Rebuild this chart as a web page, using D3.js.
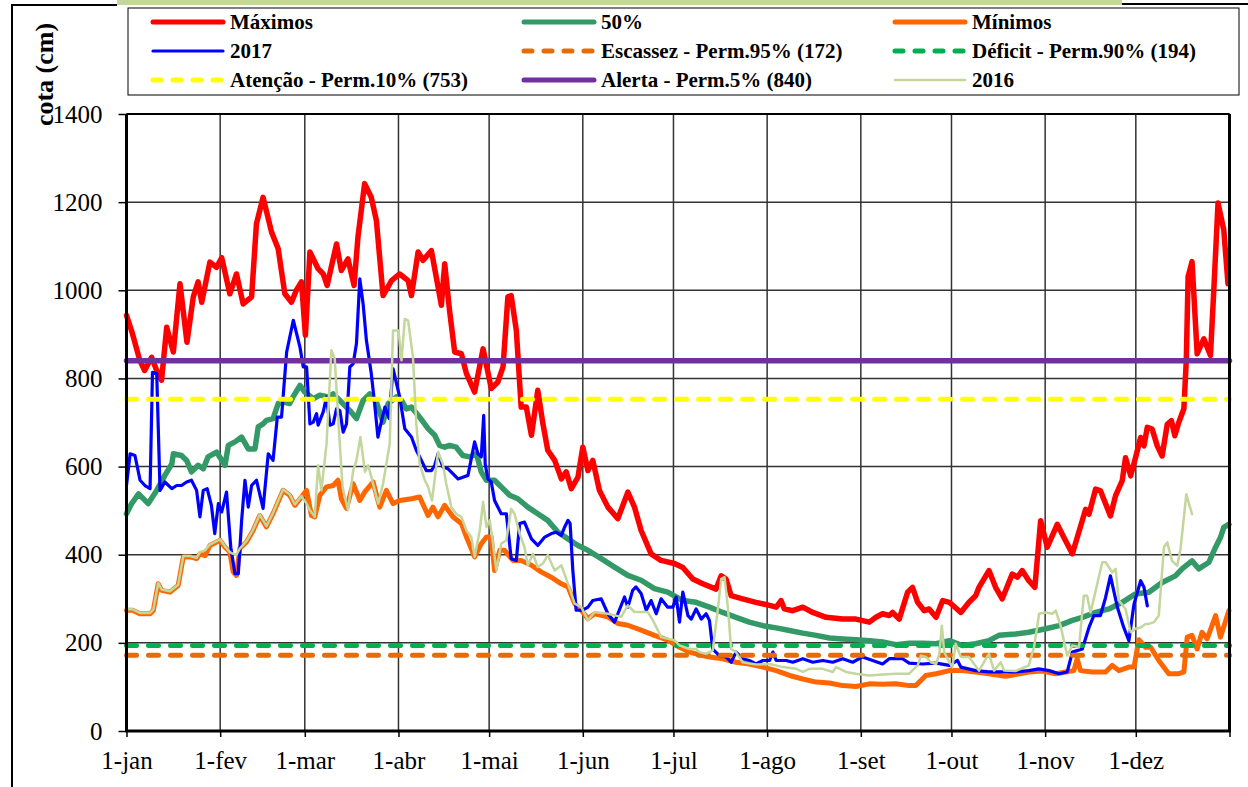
<!DOCTYPE html>
<html>
<head>
<meta charset="utf-8">
<script src="https://cdn.jsdelivr.net/npm/d3@7/dist/d3.min.js"></script>
<style>
  html, body { margin: 0; padding: 0; background: #fff; }
  svg { display: block; }
  text { font-family: "Liberation Serif", "Times New Roman", Times, serif; }
</style>
</head>
<body>
<svg id="chart" width="1248" height="787"></svg>
<script>
// ---------------- DATA ----------------
const monthStarts = [0, 31, 59, 90, 120, 151, 181, 212, 243, 273, 304, 334];
const monthLabels = ["1-jan","1-fev","1-mar","1-abr","1-mai","1-jun","1-jul","1-ago","1-set","1-out","1-nov","1-dez"];
const yTicks = [0, 200, 400, 600, 800, 1000, 1200, 1400];

// [day of year, cota (cm)]
const maximos = [[0,943],[2,901],[4.4,841],[6,818],[8.3,848],[10,818],[11.6,796],[13.3,916],[15.5,860],[17.7,1015],[20,882],[22.1,985],[23.7,1019],[24.9,973],[27.6,1064],[29.8,1052],[31.5,1074],[34.2,992],[36.4,1037],[38.6,969],[41.4,985],[43,1151],[45.2,1211],[48,1132],[50.2,1094],[52.4,992],[54.6,973],[56.2,1000],[57.9,1019],[59.2,898],[60.7,1087],[63.4,1049],[65.1,1037],[66.4,1011],[69.5,1105],[71.1,1045],[73.3,1071],[75.3,1011],[76.6,1121],[78.8,1242],[81,1211],[82.7,1158],[84.9,988],[87.7,1022],[90.4,1037],[93.2,1022],[94.3,988],[96.5,1087],[98.1,1068],[100.9,1090],[102.5,1030],[104.2,966],[105.3,1060],[106.9,954],[108.6,860],[110.8,856],[112.5,811],[115.2,769],[118,867],[120.7,777],[122.9,792],[124.6,826],[126.2,985],[127.3,988],[129,909],[130.6,735],[132.3,735],[134,671],[136.1,773],[137.8,697],[139.4,637],[141.7,614],[143.9,572],[145.5,588],[147.2,550],[149.4,576],[151,644],[152.7,591],[154.3,614],[156.5,546],[159.3,508],[162.6,482],[165.9,542],[168.1,508],[170.3,455],[173.6,402],[176.9,387],[181.3,380],[184.1,371],[187.4,345],[190.7,334],[195.1,322],[196.8,352],[198.4,345],[200.1,307],[203.9,300],[208.3,292],[212.8,285],[215,281],[216.6,296],[217.7,277],[220.5,273],[223.8,281],[227.1,269],[231.5,258],[237,254],[241.4,254],[245.8,247],[248,258],[250.2,266],[252.4,262],[253.5,269],[255.7,254],[258.5,315],[260.1,326],[261.8,292],[264,273],[265.6,277],[267.9,258],[270.1,296],[272.3,292],[276.1,269],[278.8,292],[281,307],[282.1,326],[285.4,364],[287.6,326],[289.8,300],[293.1,356],[294.8,349],[296.4,364],[298.6,341],[300.6,326],[302.5,477],[304.7,417],[308,469],[310.2,439],[313,402],[317.4,503],[318.5,492],[320.7,549],[322.3,545],[325.6,488],[327.3,534],[329.5,568],[330.6,620],[332.3,579],[333.9,620],[335.6,666],[336.7,647],[337.8,689],[339.4,685],[341.1,647],[342.7,624],[344.4,696],[345.8,704],[346.9,670],[348.2,700],[349.9,731],[350.7,841],[351.3,1031],[352.6,1065],[354.3,856],[356.5,890],[358.7,852],[359.8,1000],[361.2,1198],[363.1,1137],[364.5,1015]];

const mediana = [[0,493],[1.7,516],[4,538],[7.2,516],[10,546],[12.7,580],[15,606],[15.5,629],[18.2,625],[19.9,614],[21.5,588],[23.7,603],[25.4,595],[27,622],[29.8,633],[32.6,603],[33.7,648],[35.9,656],[38.1,667],[40.3,640],[42.5,640],[43.6,690],[45.2,697],[46.3,705],[48.5,709],[50.2,743],[52.4,746],[54,743],[55.1,758],[57.4,784],[59,769],[61.8,754],[64,762],[66.7,758],[68.4,765],[70.6,750],[73.9,727],[76.1,709],[78.3,750],[80.5,765],[82.7,746],[84.9,701],[86.6,743],[89.3,758],[91,750],[92.6,731],[94.3,735],[97,712],[99.8,686],[102,671],[103.6,648],[105.3,644],[106.9,648],[109.1,644],[111.3,625],[113.6,622],[115.8,629],[117.4,588],[119.1,569],[121.8,569],[124,554],[126.8,535],[129.5,527],[132.8,508],[136.1,493],[139.4,478],[142.8,451],[146.1,436],[149.4,421],[152.7,410],[157.1,391],[161.5,372],[165.9,353],[170.3,342],[174.7,323],[179.1,315],[184.1,296],[188.5,292],[192.9,281],[197.3,269],[201.7,258],[206.1,247],[210.6,239],[215,234],[219.4,228],[223.8,222],[228.2,217],[232.6,211],[237,209],[241.4,207],[245.8,205],[250.2,202],[254.6,196],[259,199],[263.4,199],[267.9,198],[272.3,205],[276.6,194],[281,198],[285.4,205],[288.7,217],[294.2,220],[298.6,224],[304.2,232],[308.6,239],[313,251],[316.3,258],[320.7,269],[325.1,277],[329.5,292],[333.9,311],[338.3,315],[342.7,337],[347.1,352],[349.3,368],[352.6,386],[354.8,368],[358.2,383],[360.4,417],[362,439],[363.1,462],[364.8,469]];

const minimos = [[0,274],[2,274],[4.4,266],[7.8,266],[8.9,274],[10.5,334],[11.6,319],[14.4,315],[17.1,330],[18.8,395],[21,395],[23.2,391],[24.3,402],[26,398],[27.6,421],[30.9,433],[32.6,417],[34.2,406],[35.3,361],[36.4,353],[37.5,414],[39.7,429],[41.9,455],[44.1,489],[46.3,463],[48.5,493],[51.8,546],[54,535],[55.7,512],[57.9,531],[59.6,546],[61.2,489],[62.3,486],[64,535],[66.2,554],[68.4,557],[70,569],[71.1,527],[72.8,505],[75,561],[77.2,523],[78.8,542],[81.6,565],[83.8,508],[86,546],[88.2,516],[90.4,523],[94.3,527],[97,531],[99.8,489],[101.4,508],[103.1,486],[105.3,512],[108,486],[110.8,471],[112.5,440],[115.2,395],[117.4,425],[119.1,440],[120.7,440],[121.8,364],[123.5,410],[125.1,410],[127.9,387],[130.6,387],[134,376],[137.2,361],[140.5,349],[143.9,334],[146.1,327],[148.3,289],[150.5,274],[152.7,255],[154.9,266],[159.3,259],[162.6,244],[165.9,240],[170.3,229],[174.7,217],[179.1,206],[183,190],[186.3,179],[190.7,171],[192.9,168],[197.3,164],[201.7,156],[206.1,152],[210.6,145],[215,137],[219.4,126],[223.8,118],[228.2,111],[232.6,109],[237,103],[241.4,101],[245.8,107],[250.2,106],[254.6,107],[259,103],[261.2,103],[264.5,126],[267.9,130],[272.3,137],[276.6,137],[281,134],[285.4,130],[290.9,124],[294.2,128],[298.6,134],[303,136],[307.5,130],[310.8,134],[313.5,137],[314.6,164],[315.7,137],[319.6,134],[324,134],[326.2,149],[328.4,137],[331.7,145],[333.4,145],[335,207],[337.2,190],[338.9,190],[341.6,160],[344.9,130],[348.2,130],[349.9,134],[351,213],[352.6,217],[354.3,186],[355.9,224],[357.6,209],[360.4,262],[362,213],[364.8,273]];

const ano2017 = [[0,557],[1.2,629],[2.8,625],[4.5,569],[6.1,557],[7.8,550],[8.6,814],[10,811],[11.1,546],[12.7,565],[15,550],[16.6,557],[18.2,557],[19.9,565],[21.5,569],[23.2,546],[24.3,486],[25.4,546],[26.7,550],[28.1,512],[29.2,448],[30.4,516],[31.5,497],[33.1,542],[34.5,417],[35.9,357],[37,357],[38.1,478],[39.2,569],[40.3,508],[41.4,557],[43,569],[45.2,505],[46.9,629],[48.5,614],[49.9,712],[51.3,712],[53,860],[55.2,932],[57.4,871],[58.5,826],[59.6,826],[60.7,697],[61.8,701],[62.9,720],[63.4,694],[65.1,724],[66.2,758],[67.3,694],[68.4,697],[69.5,731],[70.6,727],[71.7,678],[72.8,697],[73.9,826],[75,833],[76.1,879],[77.2,1026],[78.3,969],[79.4,886],[81,811],[82.1,743],[83.2,667],[84.3,701],[85.5,735],[86.9,709],[88.2,822],[90.4,758],[92.1,686],[94.3,667],[95.9,637],[97.6,614],[99.2,591],[100.9,591],[102,603],[103.1,629],[104.7,599],[106.4,595],[108,584],[109.7,572],[111.3,576],[113,580],[115.2,656],[116.3,629],[117.4,622],[118.2,716],[118.7,606],[119.6,572],[120.7,565],[121.8,523],[124,493],[125.7,493],[127.3,391],[129,387],[130.1,471],[131.7,474],[134,436],[136.1,421],[138.4,440],[140.6,448],[142.2,451],[143.9,444],[145,463],[146.1,478],[146.8,471],[147.7,364],[148.8,274],[151,274],[152.7,281],[154.3,296],[157.1,300],[159.3,266],[161.5,247],[162.6,266],[164.8,304],[165.9,281],[167.5,319],[168.6,327],[170.3,312],[172,274],[173.6,296],[175.3,266],[176.9,300],[179.1,281],[180.8,281],[181.9,304],[183,247],[184.1,315],[185.8,262],[186.9,254],[188.5,277],[190.2,254],[191.8,266],[192.9,251],[194,186],[196.2,171],[198.4,168],[200.1,156],[201.7,179],[203.9,164],[206.1,160],[208.3,152],[210.6,160],[212.8,160],[213.9,179],[215,160],[218.3,160],[220.5,156],[223.8,164],[227.1,156],[230.4,160],[233.7,156],[237,164],[240.3,156],[243.6,168],[246.9,160],[250.2,152],[252.4,164],[256.8,164],[259,154],[263.4,152],[267.9,154],[272.3,149],[275,160],[276.1,145],[281,137],[285.4,134],[289.8,134],[294.2,134],[298.6,137],[301.9,141],[305.3,137],[308.6,130],[311.3,134],[313,179],[316.3,186],[318.5,235],[320.1,262],[322.3,262],[324,303],[325.6,352],[327.9,281],[330,235],[331.7,205],[333.4,288],[335.6,341],[336.7,326],[337.8,284]];

const ano2016 = [[0,276],[2,276],[4.4,268],[7.8,268],[8.9,276],[10.5,336],[11.6,321],[14.4,317],[17.1,332],[18.8,397],[21,397],[23.2,393],[24.3,406],[26,410],[27.6,423],[30.9,435],[32.6,419],[34.2,406],[35.3,402],[36.4,400],[37.5,414],[39.7,431],[41.9,457],[44.1,491],[46.3,465],[48.5,495],[51.8,548],[54,537],[55.7,514],[57.9,533],[59.6,516],[60.7,501],[62.3,486],[63.4,603],[64.5,546],[66.2,652],[67.8,864],[68.9,845],[70.1,705],[71.5,554],[73.3,501],[75,591],[76.1,614],[77.4,667],[78.9,588],[80,603],[81.6,561],[83.3,516],[84.9,561],[87.1,652],[88.2,909],[90,909],[91,841],[92.1,935],[93.2,931],[94.8,848],[95.9,697],[97,606],[98.7,569],[99.8,554],[101.1,523],[103.1,633],[104.7,606],[105.8,561],[107.5,508],[109.1,493],[110.8,486],[112.5,455],[114.1,440],[115.2,395],[116.9,455],[118,520],[119.1,463],[120.2,478],[121.3,425],[122.4,364],[124,425],[125.7,433],[127.3,504],[128.4,493],[130.1,448],[131.7,417],[132.8,376],[134.5,402],[136.1,372],[137.8,380],[139.4,399],[141.7,364],[143.9,376],[146.1,334],[148.3,289],[150.5,281],[152.7,251],[154.9,270],[159.3,266],[163.7,259],[165.9,285],[168.1,270],[172.5,270],[174.2,251],[175.8,229],[176.9,213],[181.3,206],[183,194],[186.3,186],[188.5,186],[189.6,179],[191.8,175],[194,183],[195.7,277],[196.8,345],[197.9,349],[199,281],[200.1,186],[201.7,179],[203.9,156],[208.3,151],[212.8,152],[217.2,145],[221.6,141],[223.8,134],[226,141],[230.4,141],[233.7,134],[234.8,145],[238.1,134],[241.4,130],[245.8,126],[250.2,128],[254.6,130],[259,130],[261.8,149],[262.9,171],[264.5,168],[266.2,156],[267.9,152],[269,175],[269.8,239],[270.6,179],[272.3,156],[273.3,145],[274.4,198],[276.1,168],[278.8,168],[282.1,137],[285.4,175],[287.1,137],[289.3,156],[290.4,137],[294.2,136],[298.6,149],[300.3,190],[302,266],[304.2,269],[306.4,266],[307.5,273],[309.1,239],[311.3,171],[313,194],[315.2,190],[316.8,307],[317.9,307],[319,269],[320.7,318],[322.9,383],[324,383],[326.2,360],[327.3,368],[328.4,296],[330.6,277],[332.3,224],[333.9,232],[335.6,235],[337.2,243],[338.3,243],[340,247],[341.6,262],[343.3,417],[344.4,428],[346,386],[347.7,375],[348.8,413],[350.7,537],[352.6,492]];

const escassez = 172;
const deficit = 194;
const atencao = 753;
const alerta = 840;

// ---------------- CHART ----------------
const FONT = '"Liberation Serif", "Times New Roman", Times, serif';
const svg = d3.select("#chart");
const W = 1248, H = 787;
const plot = { left: 126.5, right: 1229.5, top: 114, bottom: 731 };
const x = d3.scaleLinear().domain([0, 365]).range([plot.left, plot.right]);
const y = d3.scaleLinear().domain([0, 1400]).range([plot.bottom, plot.top]);

svg.append("rect").attr("width", W).attr("height", H).attr("fill", "#fff");

// outer decorations
svg.append("rect").attr("x", 117).attr("y", 0).attr("width", 1005).attr("height", 5).attr("fill", "#C4D79B");
svg.append("line").attr("x1", 11).attr("x2", 117).attr("y1", 5).attr("y2", 5).attr("stroke", "#000").attr("stroke-width", 2);
svg.append("line").attr("x1", 1122).attr("x2", 1248).attr("y1", 4).attr("y2", 4).attr("stroke", "#000").attr("stroke-width", 2);
svg.append("line").attr("x1", 12).attr("x2", 12).attr("y1", 4).attr("y2", H).attr("stroke", "#000").attr("stroke-width", 2);

// gridlines
const grid = svg.append("g");
grid.selectAll(".hg").data(yTicks.filter(d => d > 0)).enter().append("line")
  .attr("x1", plot.left).attr("x2", plot.right)
  .attr("y1", d => y(d)).attr("y2", d => y(d))
  .attr("stroke", "#333").attr("stroke-width", 1.5);
grid.selectAll(".vg").data(monthStarts.filter(d => d > 0)).enter().append("line")
  .attr("x1", d => x(d)).attr("x2", d => x(d))
  .attr("y1", plot.top).attr("y2", plot.bottom)
  .attr("stroke", "#333").attr("stroke-width", 1.5);

// axes
const yAxis = d3.axisLeft(y).tickValues(yTicks).tickSize(8).tickPadding(16).tickFormat(d3.format("d"));
const gy = svg.append("g").attr("transform", `translate(${plot.left},0)`).call(yAxis);
gy.attr("font-family", FONT);
gy.select(".domain").remove();
gy.selectAll(".tick line").attr("stroke", "#000").attr("stroke-width", 1.5);
gy.selectAll(".tick text").attr("font-size", 25).attr("fill", "#000").attr("font-family", FONT);

const xAxis = d3.axisBottom(x).tickValues(monthStarts.concat([365]))
  .tickSize(6).tickPadding(14).tickFormat((d, i) => monthLabels[i] || "");
const gx = svg.append("g").attr("transform", `translate(0,${plot.bottom})`).call(xAxis);
gx.attr("font-family", FONT);
gx.select(".domain").remove();
gx.selectAll(".tick line").attr("stroke", "#000").attr("stroke-width", 1.5);
gx.selectAll(".tick text").attr("font-size", 25).attr("fill", "#000").attr("font-family", FONT);

// series
const line = d3.line().x(d => x(d[0])).y(d => y(d[1])).curve(d3.curveLinear);
const dash = "10,12";
const series = [
  { name: "Máximos", type: "data", data: maximos, color: "#FF0000", w: 5.5 },
  { name: "50%", type: "data", data: mediana, color: "#339966", w: 5.5 },
  { name: "Mínimos", type: "data", data: minimos, color: "#FF6600", w: 5 },
  { name: "2017", type: "data", data: ano2017, color: "#0000FF", w: 3.2 },
  { name: "Escassez - Perm.95% (172)", type: "ref", value: escassez, color: "#E46C0A", w: 5, dash: dash },
  { name: "Déficit - Perm.90% (194)", type: "ref", value: deficit, color: "#00B050", w: 5, dash: dash },
  { name: "Atenção - Perm.10% (753)", type: "ref", value: atencao, color: "#FFFF00", w: 5, dash: dash },
  { name: "Alerta - Perm.5% (840)", type: "ref", value: alerta, color: "#7030A0", w: 5.5 },
  { name: "2016", type: "data", data: ano2016, color: "#C3D69B", w: 2.5 }
];

const gs = svg.append("g");
series.forEach(s => {
  const d = s.type === "data" ? s.data : [[0, s.value], [365, s.value]];
  gs.append("path").datum(d).attr("d", line)
    .attr("fill", "none").attr("stroke", s.color).attr("stroke-width", s.w)
    .attr("stroke-linejoin", "round").attr("stroke-linecap", "round")
    .attr("stroke-dasharray", s.dash || null);
});

// plot frame
svg.append("line").attr("x1", plot.left).attr("x2", plot.right).attr("y1", plot.top).attr("y2", plot.top).attr("stroke", "#000").attr("stroke-width", 2);
svg.append("line").attr("x1", plot.left).attr("x2", plot.left).attr("y1", plot.top).attr("y2", plot.bottom + 1).attr("stroke", "#000").attr("stroke-width", 3);
svg.append("line").attr("x1", plot.right).attr("x2", plot.right).attr("y1", plot.top).attr("y2", plot.bottom + 1).attr("stroke", "#000").attr("stroke-width", 3);
svg.append("line").attr("x1", plot.left - 1).attr("x2", plot.right + 1).attr("y1", plot.bottom).attr("y2", plot.bottom).attr("stroke", "#000").attr("stroke-width", 3);

// y title
svg.append("text").attr("transform", "translate(53,74.5) rotate(-90)")
  .attr("text-anchor", "middle").attr("font-size", 26).attr("font-weight", "bold")
  .attr("font-family", FONT)
  .text("cota (cm)");

// legend
const lg = svg.append("g");
lg.append("rect").attr("x", 128).attr("y", 8).attr("width", 1111).attr("height", 87)
  .attr("fill", "#fff").attr("stroke", "#000").attr("stroke-width", 1);
const colX = [153, 524, 895];
const rowY = [22, 51, 80];
series.forEach((s, i) => {
  const cx = colX[i % 3], cy = rowY[Math.floor(i / 3)];
  lg.append("line").attr("x1", cx).attr("x2", cx + 70).attr("y1", cy).attr("y2", cy)
    .attr("stroke", s.color).attr("stroke-width", s.name === "2016" ? 2.5 : (s.name === "2017" ? 3.2 : 5))
    .attr("stroke-linecap", "round")
    .attr("stroke-dasharray", s.dash ? "8,12" : null);
  lg.append("text").attr("x", cx + 77).attr("y", cy + 7)
    .attr("font-size", 21).attr("font-weight", "bold").attr("font-family", FONT).text(s.name);
});
</script>
</body>
</html>
